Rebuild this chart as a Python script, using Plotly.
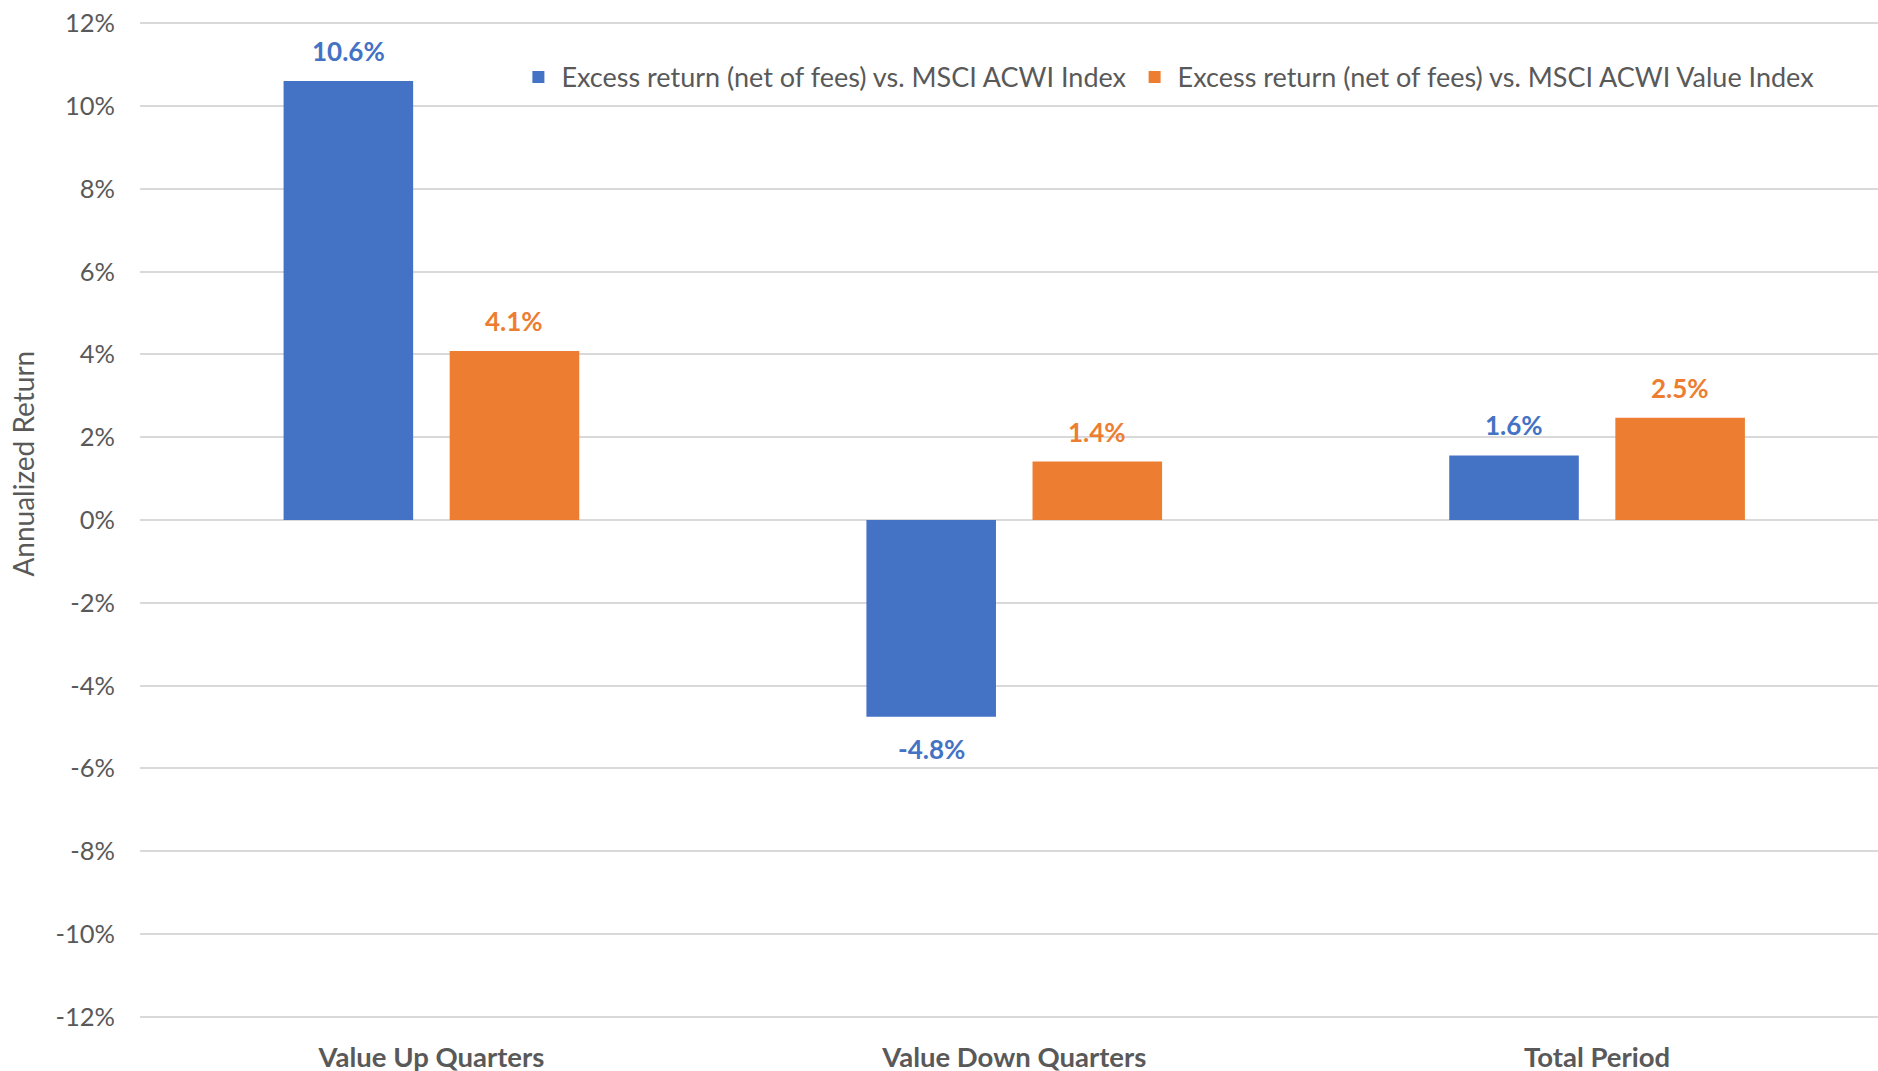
import plotly.graph_objects as go

categories = ["Value Up Quarters", "Value Down Quarters", "Total Period"]
series_names = [
    "Excess return (net of fees) vs. MSCI ACWI Index",
    "Excess return (net of fees) vs. MSCI ACWI Value Index",
]
acwi_excess = [10.6, -4.75, 1.56]
acwi_value_excess = [4.08, 1.41, 2.47]
acwi_labels = ["10.6%", "-4.8%", "1.6%"]
acwi_value_labels = ["4.1%", "1.4%", "2.5%"]
y_tick_values = [-12, -10, -8, -6, -4, -2, 0, 2, 4, 6, 8, 10, 12]
y_tick_labels = ["-12%", "-10%", "-8%", "-6%", "-4%", "-2%", "0%",
                 "2%", "4%", "6%", "8%", "10%", "12%"]
y_title = "Annualized Return"

BLUE = "#4472C4"
ORANGE = "#ED7D31"
GRAY = "#595959"
GRID = "#D9D9D9"
FONT = "Lato, 'Open Sans', sans-serif"

W, H = 1878, 1071
ML, MT, MB = 139.5, 18.6, 49.6
BARGAP = 0.43
BARGROUPGAP = 0.22

fig = go.Figure()
fig.add_trace(go.Bar(x=categories, y=acwi_excess, name=series_names[0],
                     marker=dict(color=BLUE, line=dict(width=0))))
fig.add_trace(go.Bar(x=categories, y=acwi_value_excess, name=series_names[1],
                     marker=dict(color=ORANGE, line=dict(width=0))))

offset = (1 - BARGAP) / 4.0
annotations = []
for series, labels, color, sign in [(acwi_excess, acwi_labels, BLUE, -1),
                                     (acwi_value_excess, acwi_value_labels, ORANGE, 1)]:
    for i, (v, t) in enumerate(zip(series, labels)):
        pos = v >= 0
        annotations.append(dict(
            x=i + sign * offset, y=v, xref="x", yref="y", text=t,
            showarrow=False, xanchor="center",
            yanchor="bottom" if pos else "top",
            yshift=12 if pos else -14,
            font=dict(family=FONT, size=26, color=color, weight="bold"),
        ))

plot_h = H - MT - MB
annotations.append(dict(
    x=(23 - ML) / (W - ML), y=1 - (464 - MT) / plot_h, xref="paper", yref="paper",
    text=y_title, textangle=-90, showarrow=False, xanchor="center", yanchor="middle",
    font=dict(family=FONT, size=28, color=GRAY),
))

fig.update_layout(
    width=W, height=H,
    margin=dict(l=ML, r=0, t=MT, b=MB, pad=0, autoexpand=False),
    paper_bgcolor="white", plot_bgcolor="white",
    barmode="group", bargap=BARGAP, bargroupgap=BARGROUPGAP,
    font=dict(family=FONT, color=GRAY),
    showlegend=True,
    legend=dict(
        orientation="h", x=(515 - ML) / (W - ML), xanchor="left",
        y=1 - (77 - MT) / plot_h, yanchor="middle",
        itemwidth=36,
        font=dict(family=FONT, size=27, color=GRAY),
        bgcolor="rgba(0,0,0,0)", itemclick=False, itemdoubleclick=False,
    ),
    annotations=annotations,
    xaxis=dict(
        type="category", range=[-0.5, 2.482], showgrid=False, zeroline=False,
        showline=False, ticks="", ticklabelstandoff=17, automargin=False,
        tickfont=dict(family=FONT, size=27.5, color=GRAY, weight="bold"),
        fixedrange=True,
    ),
    yaxis=dict(
        range=[-12.1, 12.1], tickvals=y_tick_values, ticktext=y_tick_labels,
        showgrid=True, gridcolor=GRID, gridwidth=1.8, zeroline=False,
        showline=False, ticks="", ticklabelstandoff=24, automargin=False,
        tickfont=dict(family=FONT, size=25.5, color=GRAY),
        fixedrange=True,
    ),
)

fig.write_html(
    "out.html",
    config={"displayModeBar": False},
    post_script="document.body.style.margin='0';document.body.style.overflow='hidden';",
)
